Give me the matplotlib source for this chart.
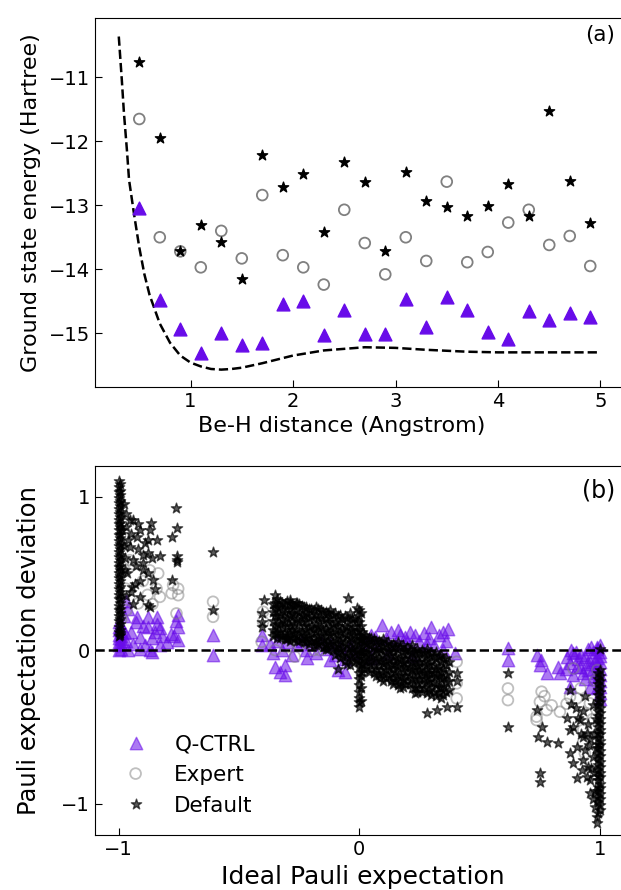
import matplotlib
matplotlib.use("Agg")
import matplotlib.pyplot as plt

# ---------------- panel (a): BeH2 ground state energy ----------------
distance = [0.5, 0.7, 0.9, 1.1, 1.3, 1.5, 1.7, 1.9, 2.1, 2.3, 2.5, 2.7,
            2.9, 3.1, 3.3, 3.5, 3.7, 3.9, 4.1, 4.3, 4.5, 4.7, 4.9]
energy_qctrl = [-13.04, -14.48, -14.93, -15.31, -14.99, -15.18, -15.15, -14.55,
                -14.50, -15.03, -14.64, -15.01, -15.02, -14.46, -14.90, -14.43,
                -14.64, -14.98, -15.09, -14.65, -14.80, -14.69, -14.74]
energy_expert = [-11.65, -13.50, -13.72, -13.97, -13.40, -13.83, -12.84, -13.78,
                 -13.97, -14.24, -13.07, -13.59, -14.08, -13.50, -13.87, -12.63,
                 -13.89, -13.73, -13.27, -13.07, -13.62, -13.48, -13.95]
energy_default = [-10.76, -11.95, -13.71, -13.31, -13.58, -14.15, -12.22, -12.71,
                  -12.51, -13.42, -12.33, -12.64, -13.71, -12.48, -12.93, -13.03,
                  -13.16, -13.01, -12.67, -13.16, -11.52, -12.62, -13.28]

# exact curve (dashed)
exact_d = [0.30, 0.33, 0.35, 0.38, 0.40, 0.45, 0.50, 0.55, 0.60, 0.70, 0.80, 0.90,
           1.00, 1.10, 1.20, 1.30, 1.40, 1.50, 1.70, 2.00, 2.30, 2.70, 3.00,
           3.30, 3.70, 4.00, 4.50, 5.00]
exact_e = [-10.36, -11.05, -11.55, -12.15, -12.60, -13.15, -13.66, -14.08, -14.40,
           -14.85, -15.15, -15.35, -15.46, -15.52, -15.56, -15.57, -15.56, -15.54,
           -15.47, -15.35, -15.27, -15.22, -15.23, -15.26, -15.29, -15.30, -15.30,
           -15.30]

# ---------------- panel (b): Pauli expectation deviation ----------------
# (ideal value, [deviations]) columns for the dense stacks, plus loose points
qctrl_cols = [
    (-1.0, [0.00, 0.03, 0.05, 0.08, 0.10, 0.13, 0.15, 0.18]),
    (-0.99, [0.01, 0.04, 0.07, 0.09, 0.12, 0.16]),
    (1.0, [0.03, -0.01, -0.04, -0.08, -0.12, -0.16, -0.20, -0.24, -0.28, -0.32]),
    (0.99, [0.01, -0.05, -0.10, -0.15, -0.19, -0.25]),
]
qctrl_pts = [
    (-0.97, 0.32), (-0.96, 0.27), (-0.98, 0.22), (-0.97, 0.06), (-0.975, 0.11),
    (-0.926, 0.217), (-0.878, 0.217), (-0.843, 0.217), (-0.878, 0.152),
    (-0.829, 0.141), (-0.913, 0.087), (-0.871, 0.0), (-0.829, 0.033),
    (-0.94, 0.043), (-0.781, 0.108), (-0.753, 0.228), (-0.753, 0.15),
    (-0.753, 0.065), (-0.77, 0.09), (-0.95, 0.12), (-0.90, 0.16), (-0.86, 0.08),
    (-0.85, 0.12), (-0.96, 0.0), (-0.89, 0.03), (-0.86, -0.01), (-0.84, 0.17),
    (-0.80, 0.05), (-0.76, 0.19), (-0.93, 0.18), (-0.91, 0.01), (-0.82, 0.09),
    (-0.608, 0.098), (-0.608, -0.033),
    # middle cluster
    (-0.406, 0.098), (-0.406, 0.033), (-0.351, -0.109), (-0.31, -0.163),
    (-0.31, -0.098), (-0.33, -0.14), (-0.219, -0.054), (-0.122, -0.065),
    (-0.088, -0.13), (-0.06, -0.14), (-0.37, 0.04), (-0.36, -0.02), (-0.34, 0.06),
    (-0.32, 0.0), (-0.30, 0.05), (-0.28, -0.03), (-0.26, 0.03), (-0.24, 0.06),
    (-0.22, 0.0), (-0.20, 0.04), (-0.18, -0.02), (-0.16, 0.05), (-0.14, 0.01),
    (-0.12, 0.04), (-0.10, -0.03), (-0.08, 0.02), (-0.06, -0.06), (-0.04, 0.03),
    (-0.02, -0.02), (0.02, 0.05), (0.05, 0.10), (0.065, 0.087), (0.07, 0.03),
    (0.093, 0.163), (0.11, 0.08), (0.13, 0.12), (0.15, 0.04), (0.17, 0.10),
    (0.19, 0.087), (0.21, 0.12), (0.23, 0.10), (0.25, 0.06), (0.27, 0.11),
    (0.29, 0.08), (0.30, 0.152), (0.31, 0.03), (0.33, 0.10), (0.349, 0.12),
    (0.36, 0.06), (0.37, 0.14), (0.35, 0.0), (0.398, -0.02), (0.12, -0.02),
    (0.22, -0.04), (0.05, -0.05), (0.20, 0.05), (0.28, 0.03), (0.16, 0.13),
    # ideal near +1
    (0.618, 0.011), (0.618, -0.065), (0.737, -0.033), (0.751, -0.098),
    (0.779, -0.152), (0.827, -0.109), (0.834, -0.152), (0.757, -0.065),
    (0.862, -0.044), (0.876, -0.087), (0.89, -0.022), (0.918, -0.109),
    (0.938, -0.044), (0.952, -0.13), (0.959, -0.239), (0.876, -0.239),
    (0.987, 0.022), (0.98, -0.065), (0.90, -0.01), (0.91, -0.06), (0.93, -0.15),
    (0.96, -0.08), (0.97, -0.01), (0.94, -0.19), (0.89, -0.16), (0.86, -0.12),
    (0.88, 0.0), (0.95, 0.01), (0.92, -0.03), (0.97, -0.12), (0.945, -0.09),
    (0.975, -0.17), (0.905, -0.11), (0.965, 0.02),
]

expert_pts = [
    (-0.954, 0.586), (-0.836, 0.5), (-0.829, 0.347), (-0.871, 0.52), (-0.843, 0.4),
    (-0.92, 0.304), (-0.968, 0.26), (-0.94, 0.56), (-0.774, 0.423), (-0.753, 0.358),
    (-0.76, 0.239), (-0.78, 0.37), (-0.753, 0.40), (-0.608, 0.315), (-0.608, 0.217),
    (-0.90, 0.45), (-0.86, 0.30), (-0.97, 0.40), (-0.99, 0.5), (-0.99, 0.2),
    (-0.88, 0.36),
    (-0.4, 0.25), (-0.4, 0.185), (-0.406, 0.054), (-0.268, -0.043), (-0.19, 0.0),
    (-0.164, 0.0), (-0.3, 0.02), (-0.25, 0.03), (-0.35, 0.0), (-0.22, 0.05),
    (-0.12, 0.02), (-0.08, 0.05), (-0.05, -0.03), (0.0, 0.05), (0.05, -0.02),
    (0.1, -0.06), (0.13, -0.08), (0.17, -0.1), (0.2, -0.05), (0.24, -0.12),
    (0.28, -0.15), (0.31, -0.2), (0.34, -0.1), (0.37, -0.26), (0.405, -0.076),
    (0.405, -0.217), (0.405, -0.315),
    (0.618, -0.25), (0.618, -0.326), (0.758, -0.271), (0.751, -0.337),
    (0.737, -0.434), (0.779, -0.391), (0.737, -0.456), (0.834, -0.402),
    (0.876, -0.304), (0.904, -0.315), (0.945, -0.413), (0.931, -0.521),
    (0.938, -0.673), (0.89, -0.12), (0.98, -0.2), (0.862, -0.35), (0.959, -0.347),
    (0.931, -0.6), (0.77, -0.30), (0.80, -0.36), (0.92, -0.25), (0.97, -0.45),
    (0.99, -0.13), (0.99, -0.55),
]

default_cols = [
    (-1.0, [1.10, 1.06, 1.03, 0.99, 0.96, 0.92, 0.89, 0.85, 0.82, 0.78, 0.75,
            0.71, 0.68, 0.64, 0.61, 0.57, 0.54, 0.50, 0.47, 0.43, 0.40, 0.36,
            0.33, 0.29, 0.26, 0.22, 0.19, 0.15, 0.12, 0.09]),
    (-0.993, [1.08, 1.04, 1.01, 0.97, 0.94, 0.90, 0.87, 0.83, 0.80, 0.76, 0.73,
              0.69, 0.66, 0.62, 0.59, 0.55, 0.52, 0.48, 0.45, 0.41, 0.38, 0.34,
              0.31, 0.27, 0.24, 0.20, 0.17, 0.13, 0.10]),
    (-0.36, [0.30, 0.25, 0.19, 0.13, 0.09]),
    (-0.35, [0.31, 0.27, 0.22, 0.16, 0.11]),
    (-0.34, [0.33, 0.28, 0.22, 0.17, 0.11, 0.08]),
    (-0.33, [0.32, 0.28, 0.23, 0.17, 0.12, 0.08]),
    (-0.32, [0.31, 0.26, 0.20, 0.15, 0.09]),
    (-0.31, [0.30, 0.24, 0.18, 0.12, 0.07]),
    (-0.30, [0.32, 0.27, 0.21, 0.16, 0.10, 0.07]),
    (-0.29, [0.31, 0.27, 0.22, 0.16, 0.11, 0.06]),
    (-0.28, [0.30, 0.24, 0.19, 0.13, 0.08]),
    (-0.27, [0.29, 0.23, 0.17, 0.11, 0.07]),
    (-0.26, [0.31, 0.26, 0.20, 0.14, 0.09, 0.06]),
    (-0.25, [0.30, 0.24, 0.18, 0.12, 0.06]),
    (-0.24, [0.29, 0.23, 0.18, 0.12, 0.07]),
    (-0.23, [0.28, 0.22, 0.16, 0.10, 0.05]),
    (-0.22, [0.28, 0.24, 0.19, 0.13, 0.08, 0.05]),
    (-0.21, [0.27, 0.21, 0.15, 0.09, 0.04]),
    (-0.20, [0.27, 0.22, 0.16, 0.11, 0.06]),
    (-0.19, [0.26, 0.20, 0.14, 0.08, 0.03]),
    (-0.18, [0.28, 0.23, 0.17, 0.12, 0.06, 0.03]),
    (-0.17, [0.27, 0.21, 0.15, 0.09, 0.04]),
    (-0.16, [0.26, 0.21, 0.15, 0.10, 0.05]),
    (-0.15, [0.25, 0.19, 0.13, 0.07, 0.02]),
    (-0.14, [0.25, 0.20, 0.14, 0.09, 0.04, 0.01]),
    (-0.13, [0.24, 0.18, 0.12, 0.06, 0.01]),
    (-0.12, [0.26, 0.21, 0.15, 0.10, 0.04]),
    (-0.11, [0.23, 0.17, 0.11, 0.05, 0.00]),
    (-0.10, [0.24, 0.18, 0.13, 0.07, 0.02, -0.03]),
    (-0.09, [0.22, 0.16, 0.10, 0.04, -0.02]),
    (-0.08, [0.23, 0.18, 0.12, 0.06, 0.01, -0.05]),
    (-0.07, [0.20, 0.14, 0.08, 0.02, -0.04]),
    (-0.06, [0.22, 0.16, 0.11, 0.05, -0.01, -0.07]),
    (-0.05, [0.21, 0.15, 0.09, 0.03, -0.03, -0.09]),
    (-0.04, [0.24, 0.19, 0.13, 0.08, 0.02, -0.04, -0.10]),
    (-0.03, [0.20, 0.13, 0.07, 0.01, -0.05]),
    (-0.02, [0.21, 0.15, 0.10, 0.04, -0.02, -0.08]),
    (-0.01, [0.18, 0.12, 0.06, 0.00, -0.06]),
    (0.0, [0.26, 0.22, 0.18, 0.13, 0.09, 0.05, 0.01, -0.03, -0.07, -0.11, -0.15,
           -0.19, -0.23, -0.27, -0.31, -0.34, -0.37]),
    (0.006, [0.24, 0.16, 0.07, -0.01, -0.09, -0.17, -0.25, -0.33]),
    (0.01, [0.12, 0.07, 0.02, -0.03, -0.09, -0.14]),
    (0.02, [0.10, 0.05, -0.01, -0.06, -0.12]),
    (0.03, [0.09, 0.04, -0.02, -0.07, -0.11]),
    (0.04, [0.08, 0.03, -0.03, -0.08, -0.14]),
    (0.05, [0.08, 0.03, -0.02, -0.07, -0.12]),
    (0.06, [0.07, 0.02, -0.04, -0.09, -0.15]),
    (0.07, [0.06, 0.00, -0.06, -0.12, -0.17]),
    (0.08, [0.06, 0.01, -0.05, -0.10, -0.16]),
    (0.09, [0.05, 0.00, -0.07, -0.13]),
    (0.10, [0.07, 0.02, -0.04, -0.09, -0.15, -0.20]),
    (0.11, [0.04, -0.02, -0.08, -0.13, -0.18]),
    (0.12, [0.05, 0.00, -0.06, -0.11, -0.17]),
    (0.13, [0.03, -0.03, -0.09, -0.15, -0.20]),
    (0.14, [0.04, -0.01, -0.07, -0.12, -0.18, -0.22]),
    (0.15, [0.02, -0.04, -0.09, -0.14, -0.20]),
    (0.16, [0.05, 0.00, -0.06, -0.11, -0.17, -0.23]),
    (0.17, [0.02, -0.05, -0.10, -0.16, -0.21]),
    (0.18, [0.03, -0.02, -0.08, -0.13, -0.19, -0.24]),
    (0.19, [0.00, -0.06, -0.11, -0.17, -0.22]),
    (0.20, [0.02, -0.03, -0.09, -0.14, -0.20]),
    (0.21, [0.00, -0.05, -0.11, -0.16, -0.22]),
    (0.22, [0.03, -0.02, -0.08, -0.13, -0.19, -0.25]),
    (0.23, [-0.01, -0.07, -0.12, -0.18, -0.24]),
    (0.24, [0.01, -0.04, -0.10, -0.15, -0.21, -0.27]),
    (0.25, [-0.02, -0.08, -0.13, -0.19, -0.25]),
    (0.26, [0.00, -0.05, -0.11, -0.16, -0.22, -0.27]),
    (0.27, [-0.02, -0.08, -0.14, -0.19, -0.25]),
    (0.28, [0.01, -0.04, -0.10, -0.15, -0.21, -0.28]),
    (0.29, [-0.03, -0.09, -0.15, -0.20, -0.26]),
    (0.30, [-0.02, -0.07, -0.13, -0.18, -0.24, -0.29]),
    (0.31, [-0.04, -0.10, -0.15, -0.21, -0.27]),
    (0.32, [-0.01, -0.06, -0.12, -0.17, -0.23, -0.30]),
    (0.33, [-0.04, -0.11, -0.17, -0.24, -0.28]),
    (0.34, [-0.03, -0.08, -0.14, -0.19, -0.25, -0.31]),
    (0.35, [-0.06, -0.12, -0.18, -0.24, -0.29]),
    (0.36, [-0.05, -0.10, -0.16, -0.21, -0.27]),
    (0.375, [-0.08, -0.14, -0.20, -0.26]),
    (0.405, [-0.152, -0.2, -0.374]),
    (1.0, [0.01, -0.13, -0.17, -0.20, -0.24, -0.27, -0.31, -0.34, -0.38, -0.41,
           -0.45, -0.48, -0.52, -0.55, -0.59, -0.62, -0.66, -0.69, -0.73, -0.76,
           -0.80, -0.83, -0.87, -0.90, -0.94, -0.97, -1.01, -1.04]),
    (0.994, [-0.15, -0.19, -0.22, -0.26, -0.29, -0.33, -0.36, -0.40, -0.43,
             -0.47, -0.50, -0.54, -0.57, -0.61, -0.64, -0.68, -0.71, -0.75,
             -0.78, -0.82, -0.85, -0.89, -0.92, -0.96, -0.99, -1.06]),
]
default_pts = [
    (-0.939, 0.847), (-0.864, 0.829), (-0.843, 0.717), (-0.878, 0.63),
    (-0.829, 0.612), (-0.760, 0.923), (-0.757, 0.793), (-0.777, 0.738),
    (-0.756, 0.612), (-0.756, 0.575), (-0.777, 0.456), (-0.608, 0.64),
    (-0.608, 0.26), (-0.871, 0.282), (-0.913, 0.347), (-0.996, 0.109),
    (-0.968, 0.89), (-0.926, 0.738), (-0.899, 0.521), (-0.947, 0.412),
    (-0.954, 0.847), (-0.878, 0.717), (-0.933, 0.434), (-0.94, 0.586),
    (-0.954, 0.67), (-0.899, 0.565), (-0.857, 0.456), (-0.878, 0.293),
    (-0.757, 0.59), (-0.98, 0.95), (-0.97, 0.80), (-0.96, 0.72), (-0.91, 0.78),
    (-0.92, 0.66), (-0.89, 0.70), (-0.975, 0.60), (-0.965, 0.50), (-0.93, 0.55),
    (-0.91, 0.45), (-0.88, 0.50), (-0.86, 0.60), (-0.85, 0.40), (-0.97, 0.35),
    (-0.94, 0.30), (-0.98, 0.68), (-0.985, 0.78), (-0.975, 0.52), (-0.95, 0.76),
    (-0.92, 0.82), (-0.90, 0.62), (-0.87, 0.78), (-0.95, 0.38),
    (-0.398, 0.326), (-0.351, 0.358), (-0.289, 0.326), (-0.261, 0.304),
    (-0.406, 0.239), (-0.406, 0.185), (-0.406, 0.152), (-0.046, 0.337),
    (-0.011, 0.272), (-0.302, 0.076), (-0.088, -0.12),
    (0.28, -0.413), (0.322, -0.391), (0.363, -0.369), (0.169, -0.25),
    (0.231, -0.282), (0.086, -0.185),
    (0.618, -0.152), (0.618, -0.5), (0.737, -0.391), (0.758, -0.5),
    (0.744, -0.565), (0.779, -0.597), (0.751, -0.803), (0.751, -0.858),
    (0.827, -0.608), (0.862, -0.445), (0.876, -0.261), (0.876, -0.673),
    (0.89, -0.738), (0.904, -0.836), (0.945, -0.825), (0.959, -0.934),
    (0.931, -0.565), (0.89, -0.5), (0.918, -0.456), (0.876, -0.52),
    (0.931, -0.716), (0.904, -0.63), (0.952, -0.76), (0.98, -1.02),
    (0.987, -1.086), (0.99, -1.13), (0.90, -0.38), (0.93, -0.40), (0.95, -0.48),
    (0.96, -0.58), (0.94, -0.65), (0.97, -0.70), (0.96, -0.85), (0.92, -0.55),
    (0.91, -0.44), (0.88, -0.35), (0.97, -0.36), (0.94, -0.30), (0.975, -0.55),
    (0.975, -0.80), (0.98, -0.92), (0.955, -0.62), (0.965, -0.77), (0.985, -0.64),
    (0.985, -0.45), (0.945, -0.54), (0.925, -0.78), (0.97, -0.97),
]

PURPLE = "#680CE9"


def flatten(cols, pts):
    xs = [c[0] for c in cols for _ in c[1]] + [p[0] for p in pts]
    ys = [v for c in cols for v in c[1]] + [p[1] for p in pts]
    return xs, ys


fig = plt.figure(figsize=(6.21, 8.9), dpi=100)
ax1 = fig.add_axes([0.1525, 0.5653, 0.862, 0.4145])
ax2 = fig.add_axes([0.1525, 0.0615, 0.862, 0.4149])

# panel (a)
ax1.plot(exact_d, exact_e, "k--", lw=1.8)
ax1.scatter(distance, energy_qctrl, marker="^", s=85, color=PURPLE, zorder=3)
ax1.scatter(distance, energy_expert, marker="o", s=60, facecolors="none",
            edgecolors="grey", linewidths=1.3, zorder=3)
ax1.scatter(distance, energy_default, marker="*", s=60, color="k", zorder=4)
ax1.set_xlim(0.065, 5.288)
ax1.set_ylim(-15.84, -10.07)
ax1.set_xticks([1, 2, 3, 4, 5])
ax1.set_yticks([-15, -14, -13, -12, -11])
ax1.set_xlabel("Be-H distance (Angstrom)", fontsize=16)
ax1.xaxis.label.set_x(0.462)
ax1.set_ylabel("Ground state energy (Hartree)", fontsize=16)
ax1.text(0.972, 0.981, "(a)", transform=ax1.transAxes, ha="right", va="top",
         fontsize=15.5)

# panel (b)
qx, qy = flatten(qctrl_cols, qctrl_pts)
ex, ey = flatten([], expert_pts)
dx, dy = flatten(default_cols, default_pts)

ax2.scatter(qx, qy, marker="^", s=80, color=PURPLE, alpha=0.55, label="Q-CTRL")
ax2.scatter(ex, ey, marker="o", s=60, facecolors="none", edgecolors="grey",
            linewidths=1.3, alpha=0.5, label="Expert")
ax2.scatter(dx, dy, marker="*", s=60, color="k", alpha=0.65, label="Default")
ax2.axhline(0, color="k", ls="--", lw=1.8, zorder=5)
ax2.set_xlim(-1.1, 1.1256)
ax2.set_ylim(-1.207, 1.2)
ax2.set_xticks([-1, 0, 1])
ax2.set_yticks([-1, 0, 1])
ax2.set_xlabel("Ideal Pauli expectation", fontsize=18)
ax2.set_ylabel("Pauli expectation deviation", fontsize=17.5)
ax2.text(0.972, 0.9675, "(b)", transform=ax2.transAxes, ha="right", va="top",
         fontsize=17)
ax2.legend(loc="lower left", frameon=False, fontsize=15.5, scatterpoints=1,
           scatteryoffsets=[0.5])

for ax in (ax1, ax2):
    ax.tick_params(direction="in", labelsize=14, length=5)
    ax.spines["right"].set_visible(False)
    ax.yaxis.set_label_coords(-0.10, 0.5)

fig.savefig("out.png", dpi=100)
